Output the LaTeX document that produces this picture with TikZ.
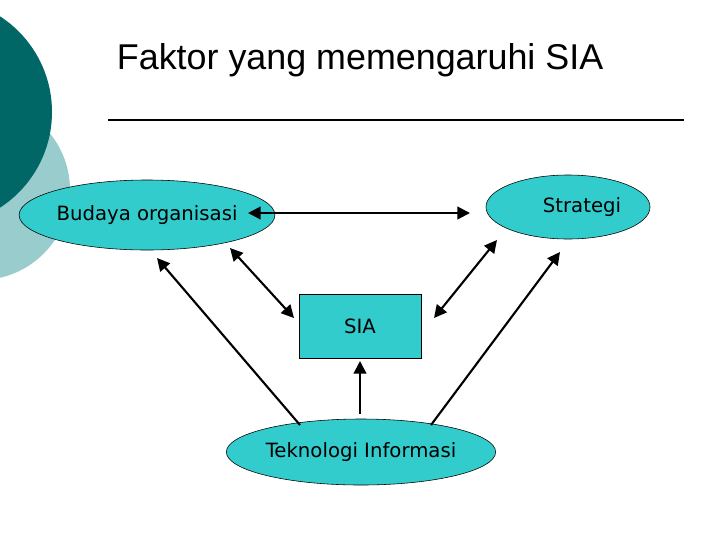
\documentclass[tikz,border=0pt]{standalone}
\usepackage{fontspec}
\setmainfont{DejaVu Sans}
\newfontfamily\titlefont{Liberation Sans}
\usetikzlibrary{arrows.meta,shapes.geometric}
\definecolor{darkteal}{HTML}{006666}
\definecolor{lightteal}{HTML}{99CCCC}
\definecolor{nodeteal}{HTML}{33CCCC}
\tikzset{
	oval/.style={ellipse, draw, fill=nodeteal, inner sep=0pt, font=\fontsize{14}{16}\selectfont},
	link/.style={line width=1.5pt, -{Triangle[length=9pt,width=9pt]}},
	both/.style={line width=1.5pt, {Triangle[length=9pt,width=9pt]}-{Triangle[length=9pt,width=9pt]}}
}
\begin{document}
\begin{tikzpicture}[x=0.025cm,y=-0.025cm]
	\useasboundingbox (0,0) rectangle (720,540);
	\clip (0,0) rectangle (720,540);
	\fill[lightteal] (-20,190) circle (90);
	\fill[darkteal] (-62,112) circle (114);
	\node[font=\titlefont\fontsize{25.5}{28}\selectfont, anchor=west] (t) at (112,60) {Faktor yang memengaruhi SIA};
	\draw[line width=1pt] (108,120) -- (684,120);
	\node[oval, minimum width=4.85cm, minimum height=1.75cm] (b) at (147,215) {Budaya organisasi};
	\node[oval, minimum width=4.1cm, minimum height=1.6cm] (s) at (568,207) {\hspace{0.7cm}Strategi};
	\node[draw, fill=nodeteal, minimum width=3.05cm, minimum height=1.6cm, font=\fontsize{14}{16}\selectfont] (sia) at (360,326) {SIA};
	\node[oval, minimum width=5.35cm, minimum height=1.65cm] (ti) at (361,452) {Teknologi Informasi};
	\coordinate (p1) at (248,213);
	\coordinate (p2) at (470,213);
	\coordinate (p3) at (230,248);
	\coordinate (p4) at (294,318);
	\coordinate (p5) at (157,258);
	\coordinate (p6) at (300,425);
	\coordinate (p7) at (497,240);
	\coordinate (p8) at (434,318);
	\coordinate (p9) at (560,252);
	\coordinate (p10) at (431,425);
	\coordinate (p11) at (360,414);
	\coordinate (p12) at (360,361);
	\draw[both] (p1) -- (p2);
	\draw[both] (p3) -- (p4);
	\draw[link] (p6) -- (p5);
	\draw[both] (p7) -- (p8);
	\draw[link] (p10) -- (p9);
	\draw[link] (p11) -- (p12);
\end{tikzpicture}
\end{document}
